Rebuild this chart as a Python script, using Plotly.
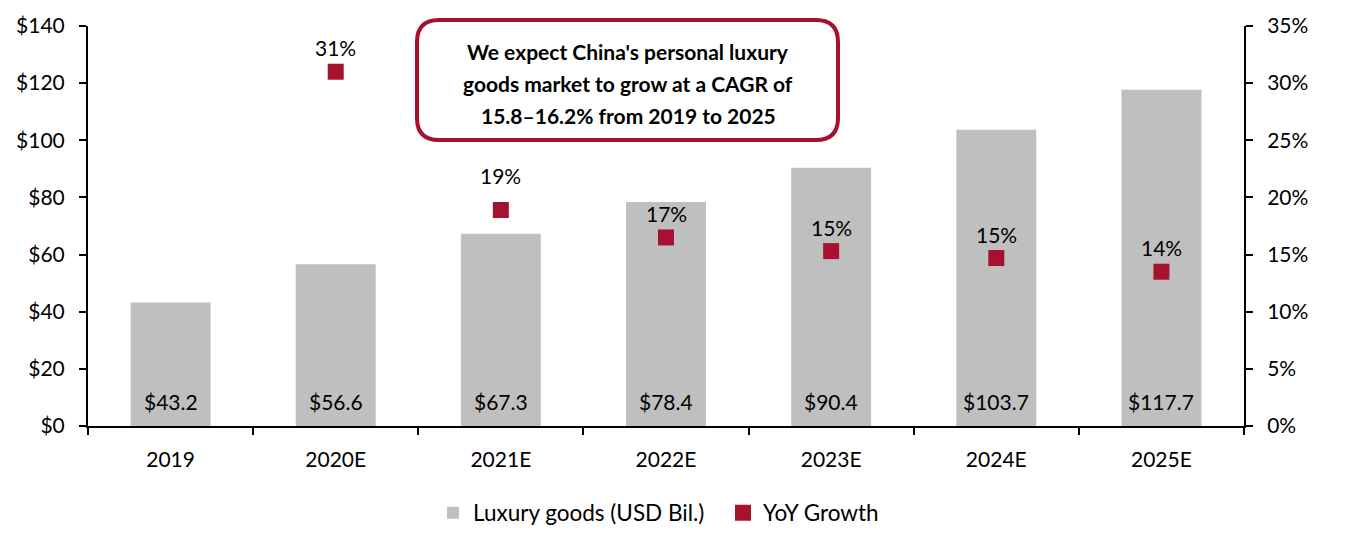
import plotly.graph_objects as go
from decimal import Decimal, ROUND_HALF_UP

years = ["2019", "2020E", "2021E", "2022E", "2023E", "2024E", "2025E"]
luxury_usd_bil = [43.2, 56.6, 67.3, 78.4, 90.4, 103.7, 117.7]
yoy_growth_pct = [None, 31.0, 18.9, 16.5, 15.3, 14.7, 13.5]
callout_lines = [
    "We expect China's personal luxury",
    "goods market to grow at a CAGR of",
    "15.8\u201316.2% from 2019 to 2025",
]

# page body has an 8px default margin; compensate so the plot lands where the reference has it
OFF = 8
W, H = 1352 - OFF, 546 - OFF
L, R, T, B = 88 - OFF, 108, 26 - OFF, 120
PW, PH = W - L - R, H - T - B
FONT = "Lato"
RED = "#A6122D"
GRAY = "#BFBFBF"


def px_x(px):
    return (px - OFF - L) / PW


def px_y(py):
    return (OFF + H - B - py) / PH


def pct_label(v):
    return str(Decimal(str(v)).quantize(Decimal("1"), rounding=ROUND_HALF_UP)) + "%"


fig = go.Figure()
fig.add_trace(go.Bar(
    x=years, y=luxury_usd_bil, name="Luxury goods (USD Bil.)",
    marker=dict(color=GRAY, line=dict(width=0)), yaxis="y",
))
fig.add_trace(go.Scatter(
    x=years, y=yoy_growth_pct, name="YoY Growth", mode="markers",
    marker=dict(symbol="square", size=16, color=RED), yaxis="y2",
))

annotations = []
# bar value labels near the base
for i, v in enumerate(luxury_usd_bil):
    annotations.append(dict(
        x=i, y=0, xref="x", yref="y", text=f"${v:.1f}", showarrow=False,
        yanchor="middle", yshift=25, font=dict(family=FONT, size=21, color="black"),
    ))
# growth labels above markers
for i, g in enumerate(yoy_growth_pct):
    if g is None:
        continue
    shift = 35 if years[i] == "2021E" else 24
    annotations.append(dict(
        x=i, y=g, xref="x", yref="y2", text=pct_label(g), showarrow=False,
        yanchor="middle", yshift=shift, font=dict(family=FONT, size=21, color="black"),
    ))
# callout text
for i, line in enumerate(callout_lines):
    annotations.append(dict(
        x=px_x(628), y=px_y(52 + 31.5 * i), xref="paper", yref="paper",
        text=f"<b>{line}</b>", showarrow=False, xanchor="center", yanchor="middle",
        font=dict(family=FONT, size=21, color="black"),
    ))

# rounded callout box
x0, x1, y0, y1, r = 417, 838, 20, 140, 22
rx, ry = r / PW, r / PH
X0, X1, Y0, Y1 = px_x(x0), px_x(x1), px_y(y0), px_y(y1)  # Y0 top, Y1 bottom
path = (
    f"M {X0 + rx},{Y0} L {X1 - rx},{Y0} Q {X1},{Y0} {X1},{Y0 - ry} "
    f"L {X1},{Y1 + ry} Q {X1},{Y1} {X1 - rx},{Y1} "
    f"L {X0 + rx},{Y1} Q {X0},{Y1} {X0},{Y1 + ry} "
    f"L {X0},{Y0 - ry} Q {X0},{Y0} {X0 + rx},{Y0} Z"
)
shapes = [dict(type="path", path=path, xref="paper", yref="paper",
               line=dict(color=RED, width=4), fillcolor="white", layer="above")]

axis_common = dict(
    showline=True, linecolor="black", linewidth=2, ticks="outside",
    ticklen=7, tickwidth=2, tickcolor="black", showgrid=False, zeroline=False,
    automargin=False, tickfont=dict(family=FONT, size=21, color="black"),
)

fig.update_layout(
    width=W, height=H, margin=dict(l=L, r=R, t=T, b=B, autoexpand=False),
    paper_bgcolor="white", plot_bgcolor="white",
    bargap=0.516,
    font=dict(family=FONT, size=21, color="black"),
    xaxis=dict(type="category", range=[-0.5, len(years) - 0.5], tickson="boundaries",
               ticklabelstandoff=14, tickangle=0, **axis_common),
    yaxis=dict(range=[0, 140], dtick=20, tickprefix="$", ticklabelstandoff=10,
               **axis_common),
    yaxis2=dict(range=[0, 35], dtick=5, ticksuffix="%", overlaying="y",
                side="right", ticklabelstandoff=10, **axis_common),
    legend=dict(orientation="h", x=px_x(433), xanchor="left", y=px_y(513),
                yanchor="middle", font=dict(family=FONT, size=22.5, color="black"),
                traceorder="normal", entrywidth=245, entrywidthmode="pixels"),
    annotations=annotations, shapes=shapes, showlegend=True,
)

fig.write_html("out.html")
